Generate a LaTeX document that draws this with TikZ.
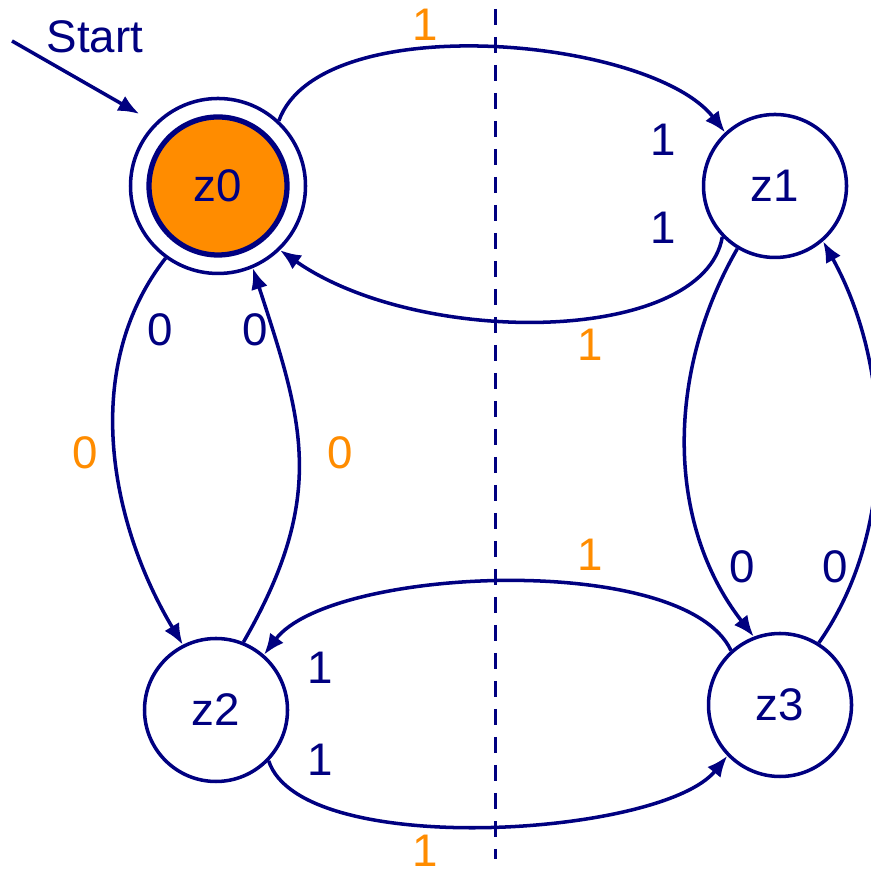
\documentclass[tikz,border=0pt]{standalone}
\usepackage{fontspec}
\setmainfont{Liberation Sans}
\usepackage{xcolor}
\usetikzlibrary{arrows.meta,positioning}
\definecolor{zblue}{RGB}{0,0,128}
\definecolor{zorange}{RGB}{255,140,0}

\begin{document}
\begin{tikzpicture}[
    zstate/.style={circle, draw=zblue, line width=1pt, inner sep=0pt, minimum size=1.43cm, font=\fontsize{13}{15}\selectfont, text=zblue},
    lbl/.style={inner sep=0pt, font=\fontsize{13}{15}\selectfont, text=zblue},
    olbl/.style={lbl, text=zorange},
    arr/.style={-{Latex[length=2.1mm,width=1.7mm]}, line width=1pt, draw=zblue},
    sep/.style={draw=zblue, line width=1pt, dash pattern=on 1.6mm off 1.2mm}
]
\useasboundingbox (0,0) rectangle (8.70,8.73);

\node[zstate, fill=zorange, line width=1.5pt, minimum size=1.38cm] (z0) at (2.18,6.87) {z0};
\node[zstate, minimum size=1.75cm] (z0ring) at (z0) {};
\node[zstate] (z1) at (7.75,6.87) {z1};
\node[zstate] (z2) at (2.16,1.63) {z2};
\node[zstate] (z3) at (7.80,1.68) {z3};

\coordinate (dtop) at (4.955,8.64);
\coordinate (dbot) at (4.955,0.14);
\draw[sep] (dtop) -- (dbot);

\node[lbl] (start) at (0.95,8.36) {Start};
\coordinate (startpt) at (0.12,8.32);
\draw[arr, shorten >=1.8mm] (startpt) -- (z0ring.135);

\draw[arr] (z0ring.47) to[out=70,in=128,distance=1.21cm] (z1.133);
\draw[arr] (z1.224) to[out=-100,in=-35,out distance=1.1cm,in distance=1.7cm] (z0ring.-46);
\draw[arr] (z0ring.234) to[out=-128,in=121,distance=1.4cm] (z2.117);
\draw[arr] (z2.68) to[out=60,in=-72,out distance=1.7cm,in distance=1.6cm] (z0ring.-67);
\draw[arr] (z1.239) to[out=-120,in=128,distance=1.43cm] (z3.111);
\draw[arr] (z3.58) to[out=55,in=-61,distance=1.4cm] (z1.-49);
\draw[arr] (z3.132) to[out=115,in=53,distance=1.1cm] (z2.49);
\draw[arr] (z2.-44) to[out=-72,in=-129,distance=1.04cm] (z3.-136);

% labels
\node[olbl] (t01a) at (4.25,8.48) {1};
\node[lbl] (t01b) at (6.63,7.33) {1};
\node[lbl] (t10a) at (6.63,6.45) {1};
\node[olbl] (t10b) at (5.90,5.28) {1};
\node[lbl] (t02a) at (1.60,5.43) {0};
\node[olbl] (t02b) at (0.85,4.20) {0};
\node[lbl] (t20a) at (2.55,5.43) {0};
\node[olbl] (t20b) at (3.40,4.20) {0};
\node[lbl] (t13) at (7.42,3.06) {0};
\node[lbl] (t31) at (8.35,3.06) {0};
\node[olbl] (t32a) at (5.90,3.18) {1};
\node[lbl] (t32b) at (3.20,2.05) {1};
\node[lbl] (t23a) at (3.20,1.13) {1};
\node[olbl] (t23b) at (4.25,0.22) {1};
\end{tikzpicture}
\end{document}
